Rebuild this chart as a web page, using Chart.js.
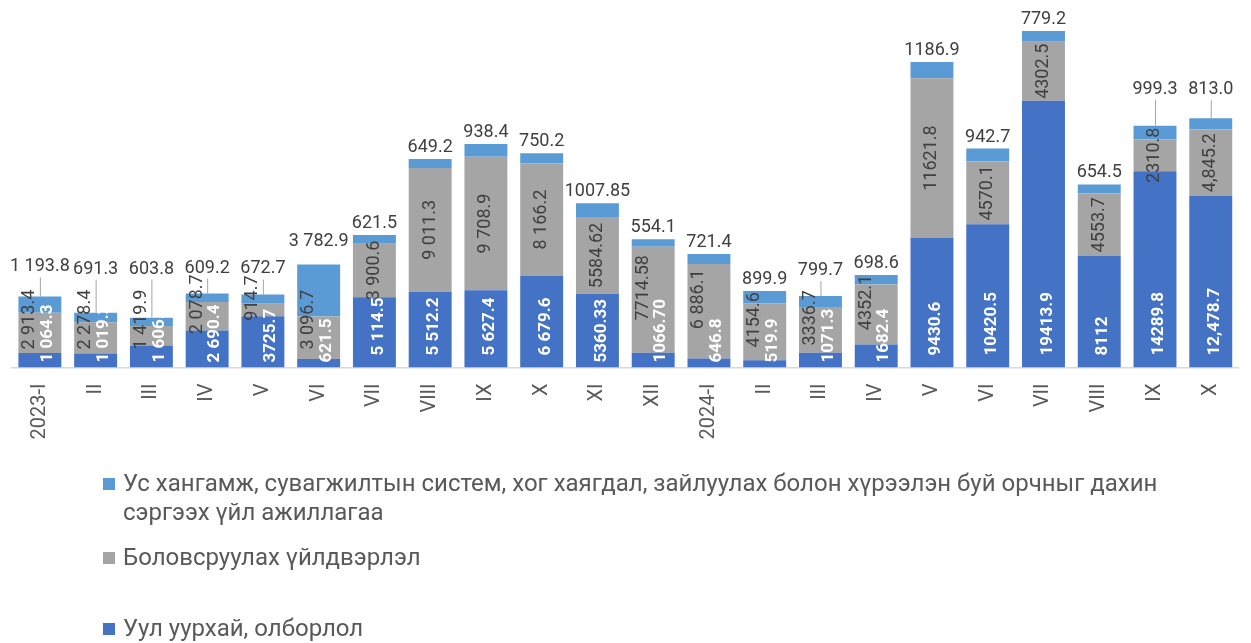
<!DOCTYPE html>
<html>
<head>
<meta charset="utf-8">
<script src="https://cdn.jsdelivr.net/npm/chart.js@4.4.1/dist/chart.umd.min.js"></script>
<style>
  html, body { margin: 0; padding: 0; background: #fff; }
  #wrap { position: relative; width: 1251px; height: 643px; overflow: hidden; }
  #legend {
    position: absolute; left: 103px; top: 469px; width: 1100px;
    font-family: Roboto, sans-serif; font-size: 24px; line-height: 29px; color: #595959;
  }
  .item { display: flex; align-items: flex-start; }
  .item:nth-child(1) { margin-bottom: 16px; }
  .item:nth-child(2) { margin-bottom: 42px; }
  .box { width: 12px; height: 12px; flex: none; margin: 9px 8px 0 0; }
</style>
</head>
<body>
<div id="wrap">
  <canvas id="chart" width="1251" height="470"></canvas>
  <div id="legend"></div>
</div>
<script>
// categories (months)
const categories = ['2023-I', 'II', 'III', 'IV', 'V', 'VI', 'VII', 'VIII', 'IX', 'X', 'XI', 'XII',
  '2024-I', 'II', 'III', 'IV', 'V', 'VI', 'VII', 'VIII', 'IX', 'X'];

// Уул уурхай, олборлол
const mining = [1064.3, 1019.2, 1606.0, 2690.4, 3725.7, 621.5, 5114.5, 5512.2, 5627.4, 6679.6, 5360.33, 1066.70,
  646.8, 519.9, 1071.3, 1682.4, 9430.6, 10420.5, 19413.9, 8112, 14289.8, 12478.7];
const miningLabels = ['1 064.3', '1 019.2', '1 606.', '2 690.4', '3725.7', '621.5', '5 114.5', '5 512.2', '5 627.4', '6 679.6', '5360.33', '1066.70',
  '646.8', '519.9', '1071.3', '1682.4', '9430.6', '10420.5', '19413.9', '8112', '14289.8', '12,478.7'];

// Боловсруулах үйлдвэрлэл
const manufacturing = [2913.4, 2278.4, 1419.9, 2078.7, 914.7, 3096.7, 3900.6, 9011.3, 9708.9, 8166.2, 5584.62, 7714.58,
  6886.1, 4154.6, 3336.7, 4352.1, 11621.8, 4570.1, 4302.5, 4553.7, 2310.8, 4845.2];
const manufacturingLabels = ['2 913.4', '2 278.4', '1 419.9', '2 078.7', '914.7', '3 096.7', '3 900.6', '9 011.3', '9 708.9', '8 166.2', '5584.62', '7714.58',
  '6 886.1', '4154.6', '3336.7', '4352.1', '11621.8', '4570.1', '4302.5', '4553.7', '2310.8', '4,845.2'];

// Ус хангамж ...
const water = [1193.8, 691.3, 603.8, 609.2, 672.7, 3782.9, 621.5, 649.2, 938.4, 750.2, 1007.85, 554.1,
  721.4, 899.9, 799.7, 698.6, 1186.9, 942.7, 779.2, 654.5, 999.3, 813.0];
const waterLabels = ['1 193.8', '691.3', '603.8', '609.2', '672.7', '3 782.9', '621.5', '649.2', '938.4', '750.2', '1007.85', '554.1',
  '721.4', '899.9', '799.7', '698.6', '1186.9', '942.7', '779.2', '654.5', '999.3', '813.0'];

const seriesNames = [
  'Уул уурхай, олборлол',
  'Боловсруулах үйлдвэрлэл',
  'Ус хангамж, сувагжилтын систем, хог хаягдал, зайлуулах болон хүрээлэн буй орчныг дахин сэргээх үйл ажиллагаа'
];

// top labels that were moved up in the original, some with leader lines
const labelLift = {0: 25, 1: 39, 2: 44, 3: 21, 4: 21, 5: 18, 14: 21, 20: 32, 21: 24};
const leaderLines = [0, 1, 2, 3, 4, 14, 20, 21];

function drawRotated(ctx, text, x, y, align, color, font) {
  ctx.save();
  ctx.translate(x, y);
  ctx.rotate(-Math.PI / 2);
  ctx.font = font;
  ctx.fillStyle = color;
  ctx.textAlign = align;
  ctx.textBaseline = 'middle';
  ctx.fillText(text, 0, 0);
  ctx.restore();
}

const segmentLabels = {
  id: 'segmentLabels',
  afterDatasetsDraw(chart) {
    const ctx = chart.ctx;
    const mBlue = chart.getDatasetMeta(0);
    const mGray = chart.getDatasetMeta(1);
    const mTop = chart.getDatasetMeta(2);
    const blueFont = 'bold 17px Roboto';
    const darkFont = '18px Roboto';
    ctx.save();
    categories.forEach((c, i) => {
      const b = mBlue.data[i], g = mGray.data[i], t = mTop.data[i];
      const x = b.x;
      const base = b.base;

      ctx.font = blueFont;
      const bw = ctx.measureText(miningLabels[i]).width;
      const fits = bw + 12 <= base - b.y;
      const blueLo = base - (fits ? 12 : 5);
      const blueHi = blueLo - bw;

      ctx.font = darkFont;
      const gw = ctx.measureText(manufacturingLabels[i]).width;
      let gc = (g.y + g.base) / 2;
      gc = Math.min(gc, base - 6 - gw / 2);
      const overlap = gc + gw / 2 > blueHi + 4;
      if (overlap) gc -= 12;

      drawRotated(ctx, manufacturingLabels[i], overlap ? x - 10 : x, gc, 'center', '#404040', darkFont);
      drawRotated(ctx, miningLabels[i], overlap ? x + 8 : x + 4, blueLo, 'left', '#ffffff', blueFont);

      // total-top label
      const lift = labelLift[i] || 7;
      const ty = t.y - lift;
      ctx.font = darkFont;
      ctx.fillStyle = '#404040';
      ctx.textAlign = 'center';
      ctx.textBaseline = 'alphabetic';
      ctx.fillText(waterLabels[i], x, ty);
      if (leaderLines.includes(i)) {
        ctx.strokeStyle = '#a6a6a6';
        ctx.lineWidth = 1;
        ctx.beginPath();
        ctx.moveTo(x + 0.5, ty + 6);
        ctx.lineTo(x + 0.5, t.y);
        ctx.stroke();
      }
    });
    ctx.restore();
  }
};

const ctx = document.getElementById('chart').getContext('2d');
const chart = new Chart(ctx, {
  type: 'bar',
  data: {
    labels: categories,
    datasets: [
      { label: seriesNames[0], data: mining, backgroundColor: '#4472c4' },
      { label: seriesNames[1], data: manufacturing, backgroundColor: '#a5a5a5' },
      { label: seriesNames[2], data: water, backgroundColor: '#5b9bd5' }
    ]
  },
  options: {
    responsive: false,
    animation: false,
    layout: { padding: { top: 24, left: 12, right: 11, bottom: 0 } },
    datasets: { bar: { categoryPercentage: 1, barPercentage: 0.77, borderWidth: 0 } },
    plugins: { legend: { display: false }, tooltip: { enabled: false } },
    scales: {
      x: {
        stacked: true,
        grid: { display: false, drawTicks: false },
        border: { color: '#d9d9d9', width: 1.5 },
        ticks: {
          minRotation: 90, maxRotation: 90, padding: 16,
          color: '#595959', font: { family: 'Roboto', size: 20 }
        },
        afterFit(scale) { scale.height = 102.5; }
      },
      y: { stacked: true, display: false, min: 0, max: 25000 }
    }
  },
  plugins: [segmentLabels]
});

// legend, top series first
const legend = document.getElementById('legend');
chart.data.datasets.slice().reverse().forEach(ds => {
  const item = document.createElement('div');
  item.className = 'item';
  const box = document.createElement('span');
  box.className = 'box';
  box.style.background = ds.backgroundColor;
  const text = document.createElement('span');
  text.textContent = ds.label;
  item.appendChild(box);
  item.appendChild(text);
  legend.appendChild(item);
});
</script>
</body>
</html>
